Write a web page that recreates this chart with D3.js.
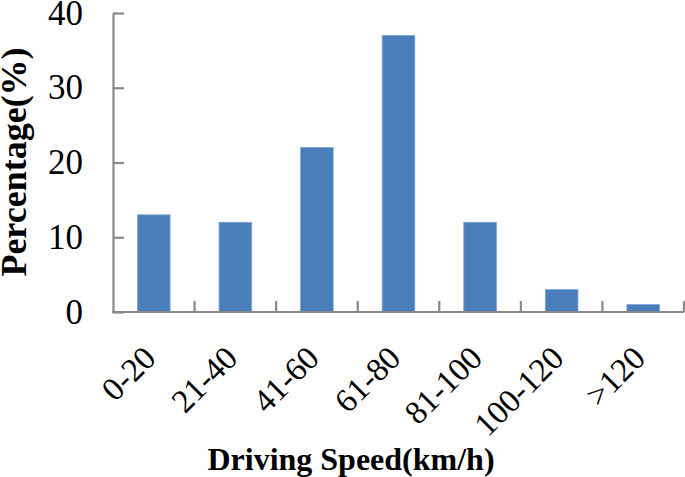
<!DOCTYPE html>
<html>
<head>
<meta charset="utf-8">
<script src="https://cdn.jsdelivr.net/npm/d3@7/dist/d3.min.js"></script>
<style>
  html, body { margin: 0; padding: 0; background: #fff; }
  svg { display: block; }
  text { font-family: "Liberation Serif", "Times New Roman", serif; fill: #000; }
</style>
</head>
<body>
<svg id="chart" width="685" height="477"></svg>
<script>
const categories = ["0-20", "21-40", "41-60", "61-80", "81-100", "100-120", ">120"];
const values = [13, 12, 22, 37, 12, 3, 1];
const yTicks = [0, 10, 20, 30, 40];
const xTitle = "Driving Speed(km/h)";
const yTitle = "Percentage(%)";

(function () {
const svg = d3.select("#chart");
const mLeft = 113, mRight = 684, mTop = 13, mBottom = 312;
const axisColor = "#898989";

const x = d3.scaleBand().domain(categories).range([mLeft, mRight]).paddingInner(0.6).paddingOuter(0.3);
const xOuter = d3.scaleBand().domain(categories).range([mLeft, mRight]).padding(0);
const y = d3.scaleLinear().domain([0, 40]).range([mBottom, mTop]);

// bars
svg.append("g").selectAll("rect").data(values).join("rect")
  .attr("x", (d, i) => x(categories[i]))
  .attr("width", x.bandwidth())
  .attr("y", d => y(d))
  .attr("height", d => y(0) - y(d))
  .attr("fill", "#4a7ebb")
  .attr("stroke", "#7fa3d3")
  .attr("stroke-width", 0.8);

// y axis
const gy = svg.append("g").attr("transform", `translate(${mLeft},0)`)
  .call(d3.axisLeft(y).tickValues(yTicks).tickSizeInner(-11).tickSizeOuter(0).tickPadding(30));
gy.select(".domain").attr("stroke", axisColor).attr("stroke-width", 2.2);
gy.selectAll(".tick line").attr("stroke", axisColor).attr("stroke-width", 2.2);
gy.selectAll(".tick text").attr("font-size", 35).attr("font-family", "Liberation Serif").attr("fill", "#000");

// x axis line with ticks between categories
const gx = svg.append("g").attr("transform", `translate(0,${mBottom})`);
gx.append("line").attr("x1", mLeft - 1).attr("x2", mRight).attr("y1", 0).attr("y2", 0)
  .attr("stroke", axisColor).attr("stroke-width", 2.2);
const bounds = categories.map(c => xOuter(c) + xOuter.bandwidth());
gx.selectAll("line.tk").data(bounds).join("line").attr("class", "tk")
  .attr("x1", d => d).attr("x2", d => d).attr("y1", 0).attr("y2", -11)
  .attr("stroke", axisColor).attr("stroke-width", 2.2);

// x tick labels rotated
svg.append("g").selectAll("text").data(categories).join("text")
  .attr("transform", d => `translate(${x(d) + x.bandwidth() / 2 + 4},${mBottom + 48}) rotate(-45)`)
  .attr("text-anchor", "end")
  .attr("font-size", 33)
  .text(d => d);

// titles
svg.append("text")
  .attr("x", 351).attr("y", 470)
  .attr("text-anchor", "middle")
  .attr("font-size", 32).attr("font-weight", "bold")
  .text(xTitle);

svg.append("text")
  .attr("transform", `translate(26,162) rotate(-90)`)
  .attr("text-anchor", "middle")
  .attr("font-size", 36).attr("font-weight", "bold")
  .text(yTitle);
})();
</script>
</body>
</html>
